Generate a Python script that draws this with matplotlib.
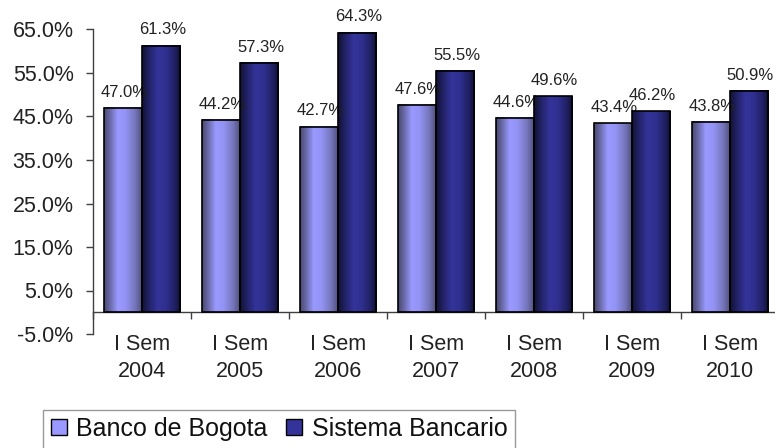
import numpy as np
import matplotlib
matplotlib.use("Agg")
import matplotlib.pyplot as plt
from matplotlib.patches import Patch
from matplotlib.colors import to_rgb
from matplotlib.ticker import FixedLocator

plt.rcParams['font.family'] = ['Liberation Sans', 'DejaVu Sans']

categories = ["I Sem\n2004", "I Sem\n2005", "I Sem\n2006", "I Sem\n2007",
              "I Sem\n2008", "I Sem\n2009", "I Sem\n2010"]
banco_bogota = [47.0, 44.2, 42.7, 47.6, 44.6, 43.4, 43.8]
sistema_bancario = [61.3, 57.3, 64.3, 55.5, 49.6, 46.2, 50.9]
series_names = ["Banco de Bogota", "Sistema Bancario"]
yticks = [-5, 5, 15, 25, 35, 45, 55, 65]

# gradient colour stops across each bar (position, colour)
light_stops = [(0.0, "#4a4a70"), (0.15, "#6868a6"), (0.35, "#9999ff"),
               (0.55, "#9494f6"), (0.8, "#7676bc"), (1.0, "#4c4c7a")]
dark_stops = [(0.0, "#121236"), (0.2, "#24246c"), (0.4, "#333399"),
              (0.6, "#303092"), (0.85, "#202062"), (1.0, "#101032")]
light_base = "#9999ff"
dark_base = "#333399"


def gradient(stops, n=80):
    pos = np.array([p for p, _ in stops])
    cols = np.array([to_rgb(c) for _, c in stops])
    t = np.linspace(0, 1, n)
    out = np.stack([np.interp(t, pos, cols[:, j]) for j in range(3)], axis=-1)
    return out[np.newaxis, :, :]


fig = plt.figure(figsize=(7.75, 4.48), dpi=100)
ax = fig.add_axes([93 / 775, 1 - 334 / 448, 686 / 775, 304.5 / 448])

x = np.arange(len(categories))
w = 0.39
grads = [gradient(light_stops), gradient(dark_stops)]
for k, vals in enumerate([banco_bogota, sistema_bancario]):
    xs = x + (k - 0.5) * w
    bars = ax.bar(xs, vals, width=w, facecolor='none', edgecolor='black',
                  linewidth=1.2, zorder=3)
    for b in bars:
        x0 = b.get_x()
        ax.imshow(grads[k], extent=[x0, x0 + b.get_width(), 0, b.get_height()],
                  aspect='auto', zorder=2, interpolation='bilinear')
    for xi, v in zip(xs, vals):
        ax.annotate(f"{v:.1f}%", (xi, v), xytext=(1, 8), textcoords='offset points',
                    ha='center', va='baseline', fontsize=12, color='#222222')

ax.set_xlim(-0.5, len(categories) - 0.5)
ax.set_ylim(-5, 65)

ax.spines['top'].set_visible(False)
ax.spines['right'].set_visible(False)
ax.spines['bottom'].set_position(('data', 0))
for s in ('left', 'bottom'):
    ax.spines[s].set_color('#404040')
    ax.spines[s].set_linewidth(1.0)

ax.set_yticks(yticks)
ax.set_yticklabels([f"{v:.1f}%" for v in yticks], fontsize=15.5, color='#222222')
ax.tick_params(axis='y', direction='out', length=5, width=1, color='#404040', pad=9)

ax.set_xticks(x)
ax.set_xticklabels(categories, fontsize=15.5, color='#222222', linespacing=1.35)
ax.xaxis.set_minor_locator(FixedLocator(np.arange(-0.5, len(categories), 1.0)))
ax.tick_params(axis='x', which='major', length=0, pad=16)
ax.tick_params(axis='x', which='minor', direction='out', length=5, width=1, color='#404040')

handles = [Patch(facecolor=light_base, edgecolor='black', linewidth=1),
           Patch(facecolor=dark_base, edgecolor='black', linewidth=1)]
leg = fig.legend(handles, series_names, loc='upper left',
                 bbox_to_anchor=(43 / 775, 1 - 409.5 / 448), ncol=2,
                 fontsize=18, frameon=True, fancybox=False, borderpad=0.3,
                 handlelength=0.64, handleheight=0.64, handletextpad=0.4,
                 columnspacing=0.72, borderaxespad=0)
leg.get_frame().set_edgecolor('#808080')
leg.get_frame().set_linewidth(1.0)
for t in leg.get_texts():
    t.set_color('#111111')

fig.savefig("out.png", dpi=100)
